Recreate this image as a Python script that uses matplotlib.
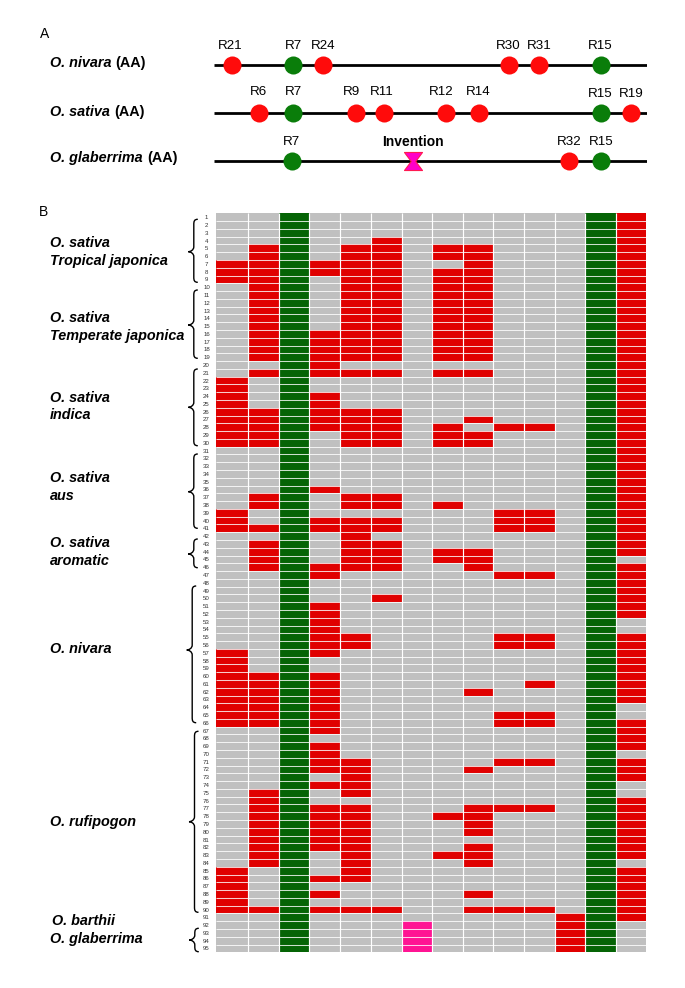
#!/usr/bin/env python3
"""
Gene presence map: R gene positions on three genomes (A) and accessions by gene table (B).
"""
import numpy as np
import matplotlib
matplotlib.use("Agg")
import matplotlib.pyplot as plt
from matplotlib.colors import ListedColormap
from matplotlib.patches import PathPatch
from matplotlib.path import Path

plt.rcParams['font.family'] = ['Liberation Sans', 'DejaVu Sans']

# Panel A, position along the track in percent of its length
nivara_genes = ["R21", "R7", "R24", "R30", "R31", "R15"]
nivara_pos = [4.1, 18.3, 25.2, 68.2, 75.2, 89.4]
sativa_genes = ["R6", "R7", "R9", "R11", "R12", "R14", "R15", "R19"]
sativa_pos = [10.4, 18.3, 32.8, 39.2, 53.6, 61.2, 89.4, 96.4]
glaberrima_genes = ["R7", "R32", "R15"]
glaberrima_pos = [18.0, 82.1, 89.4]
invention_pos = [46.1]
conserved_genes = ["R7", "R15"]

# Panel B, inclusive row ranges (accession numbers) per gene column
n_rows = 95
col0 = [(7, 9), (22, 30), (39, 41), (57, 66), (85, 90)]
col1 = [(5, 19), (21, 21), (26, 30), (37, 38), (41, 41), (43, 46), (60, 66), (75, 84), (90, 90)]
col3 = [(7, 8), (16, 21), (24, 28), (36, 36), (40, 41), (46, 47), (51, 57), (60, 67), (69, 72),
        (74, 74), (77, 82), (86, 86), (88, 88), (90, 90)]
col4 = [(5, 19), (21, 21), (26, 30), (37, 38), (40, 46), (55, 56), (71, 75), (77, 86), (90, 90)]
col5 = [(4, 19), (21, 21), (26, 30), (37, 38), (40, 41), (43, 46), (50, 50), (90, 90)]
col7 = [(5, 6), (8, 19), (21, 21), (28, 30), (38, 38), (44, 45), (78, 78), (83, 83)]
col8 = [(5, 19), (21, 21), (27, 27), (29, 30), (44, 46), (62, 62), (72, 72), (77, 80),
        (82, 84), (88, 88), (90, 90)]
col9 = [(28, 28), (39, 41), (47, 47), (55, 56), (65, 66), (71, 71), (77, 77), (90, 90)]
col10 = [(28, 28), (39, 41), (47, 47), (55, 56), (61, 61), (65, 66), (71, 71), (77, 77), (90, 90)]
col11 = [(91, 95)]
col13 = [(1, 44), (46, 52), (55, 63), (66, 69), (71, 73), (76, 83), (85, 91)]
green_cols = [2, 12]
pink_col = 6
pink_rows = [(92, 95)]

group_names = [
    ["O. sativa", "Tropical japonica"],
    ["O. sativa", "Temperate japonica"],
    ["O. sativa", "indica"],
    ["O. sativa", "aus"],
    ["O. sativa", "aromatic"],
    ["O. nivara"],
    ["O. rufipogon"],
    ["O. barthii"],
    ["O. glaberrima"],
]

W, H = 685, 988
RED = "#E00000"
GREEN = "#056405"
GREY = "#C0C0C0"
PINK = "#FF1493"


def axes_px(fig, x0, y0, x1, y1):
    """Axes from pixel box, y measured from the top."""
    return fig.add_axes([x0 / W, 1 - y1 / H, (x1 - x0) / W, (y1 - y0) / H])


def build_matrix():
    red_cols = {0: col0, 1: col1, 3: col3, 4: col4, 5: col5, 7: col7, 8: col8,
                9: col9, 10: col10, 11: col11, 13: col13}
    matrix = np.zeros((n_rows, 14))
    for col, spans in red_cols.items():
        for a, b in spans:
            matrix[a - 1:b, col] = 1
    for col in green_cols:
        matrix[:, col] = 2
    for a, b in pink_rows:
        matrix[a - 1:b, pink_col] = 3
    return matrix


def draw_brace(ax, top, bottom, tip, x_tip):
    """Curly brace opening right, in overlay pixel coordinates."""
    xv = x_tip + 5.5
    xe = x_tip + 9.5
    r = 5
    verts = [
        (xe, top), (xv + 0.5, top), (xv, top + 2), (xv, top + r),
        (xv, tip - r), (xv, tip - 1.5), (x_tip + 2, tip), (x_tip, tip),
        (x_tip + 2, tip), (xv, tip + 1.5), (xv, tip + r),
        (xv, bottom - r), (xv, bottom - 2), (xv + 0.5, bottom), (xe, bottom),
    ]
    codes = [Path.MOVETO, Path.CURVE4, Path.CURVE4, Path.CURVE4,
             Path.LINETO, Path.CURVE4, Path.CURVE4, Path.CURVE4,
             Path.CURVE4, Path.CURVE4, Path.CURVE4,
             Path.LINETO, Path.CURVE4, Path.CURVE4, Path.CURVE4]
    ax.add_patch(PathPatch(Path(verts, codes), fc="none", ec="black", lw=1.0))


def draw_tracks(fig):
    ax = axes_px(fig, 214, 40.6, 646.7, 185.1)
    ax.set_xlim(0, 100)
    ax.set_ylim(2.5, -0.5)
    ax.axis("off")
    hourglass = Path([(-1, 1), (1, 1), (0.25, 0), (1, -1), (-1, -1), (-0.25, 0), (-1, 1)], closed=True)
    tracks = [(nivara_genes, nivara_pos), (sativa_genes, sativa_pos), (glaberrima_genes, glaberrima_pos)]
    for row, (genes, pos) in enumerate(tracks):
        ax.plot([0, 100], [row, row], color="black", lw=2.0, zorder=1, solid_capstyle="butt")
        for gene, x in zip(genes, pos):
            color = "#0A7D0A" if gene in conserved_genes else "#FF0B0B"
            ax.plot([x], [row], "o", ms=13, color=color, mec="none", zorder=2, clip_on=False)
    ax.plot(invention_pos, [2], marker=hourglass, ms=13, mfc="#FF00C8", mec="#FF1A50", mew=0.8,
            ls="none", zorder=3)


def draw_heatmap(fig):
    col_edges = np.array([215.7, 248.3, 279.3, 309.3, 340, 370.7, 401.7, 432.3, 463, 493.3,
                          524.3, 554.7, 585.3, 615.7, 646])
    row_edges = np.arange(n_rows + 1) + 0.5
    ax = axes_px(fig, col_edges[0], 213.3, col_edges[-1], 952.3)
    cmap = ListedColormap([GREY, RED, GREEN, PINK])
    ax.pcolormesh(col_edges, row_edges, build_matrix(), cmap=cmap, vmin=-0.5, vmax=3.5)
    ax.hlines(row_edges[1:-1], col_edges[0], col_edges[-1], color="white", lw=0.75, alpha=0.8)
    ax.vlines(col_edges[1:-1], 0.5, n_rows + 0.5, color="white", lw=0.85)
    ax.set_xlim(col_edges[0], col_edges[-1])
    ax.set_ylim(n_rows + 0.5, 0.5)
    ax.set_xticks([])
    ax.set_yticks(np.arange(1, n_rows + 1))
    ax.set_yticklabels([str(i) for i in range(1, n_rows + 1)], ha="center")
    ax.tick_params(axis="y", length=0, labelsize=4.4, pad=6.6, labelcolor="#333333")
    for spine in ax.spines.values():
        spine.set_visible(False)


def draw_overlay(fig):
    ax = fig.add_axes([0, 0, 1, 1], facecolor="none")
    ax.set_xlim(0, W)
    ax.set_ylim(H, 0)
    ax.axis("off")

    ax.text(45, 33.5, "A", fontsize=10, ha="center", va="center")
    ax.text(43.5, 211.5, "B", fontsize=10, ha="center", va="center")

    # Left names of panel A
    for name, x_aa, y in [("O. nivara", 115.5, 63), ("O. sativa", 114.3, 112), ("O. glaberrima", 147.3, 158)]:
        ax.text(50, y, name, fontsize=10.4, fontweight="bold", fontstyle="italic", va="center")
        ax.text(x_aa, y, "(AA)", fontsize=10.4, fontweight="bold", va="center")

    # Gene labels above the tracks
    labels = [
        ("R21", 230, 45.7), ("R7", 293, 45.7), ("R24", 323, 45.7),
        ("R30", 507.7, 45.7), ("R31", 539, 45.7), ("R15", 600, 45.7),
        ("R6", 259, 92.3), ("R7", 293, 92.3), ("R9", 352, 92.3), ("R11", 382, 92.3),
        ("R12", 440.7, 92.3), ("R14", 478, 92.3), ("R15", 600, 93.7), ("R19", 631.7, 93.7),
        ("R7", 291, 142.3), ("R32", 569, 142.3), ("R15", 601.7, 142.3),
    ]
    for text, x, y in labels:
        ax.text(x, y, text, fontsize=9.6, ha="center", va="center")
    ax.text(412.7, 142.3, "Invention", fontsize=10, fontweight="bold", ha="center", va="center")

    # Group names of panel B, line centres follow the picture
    line_y = [(243.3, 261), (318.3, 336), (397.7, 415), (477.7, 496), (543.3, 561),
              (648.7,), (821.7,), (920.7,), (938.7,)]
    for lines, ys in zip(group_names, line_y):
        for text, y in zip(lines, ys):
            x = 52 if text == "O. barthii" else 50
            ax.text(x, y, text, fontsize=10.4, fontweight="bold", fontstyle="italic", va="center")

    braces = [(219.3, 282.3, 251.7, 188.3), (290, 358.3, 325, 188.3), (369, 445.7, 407.3, 188.3),
              (454, 528.3, 491.7, 188.3), (539, 567.7, 554, 188.3), (586, 722.7, 650, 186.7),
              (731.3, 912.3, 821.7, 189), (928.3, 951.7, 940, 189.3)]
    for top, bottom, tip, x_tip in braces:
        draw_brace(ax, top, bottom, tip, x_tip)


def main():
    fig = plt.figure(figsize=(W / 100, H / 100), dpi=100)
    draw_tracks(fig)
    draw_heatmap(fig)
    draw_overlay(fig)
    fig.savefig("out.png", dpi=100)


if __name__ == "__main__":
    main()
